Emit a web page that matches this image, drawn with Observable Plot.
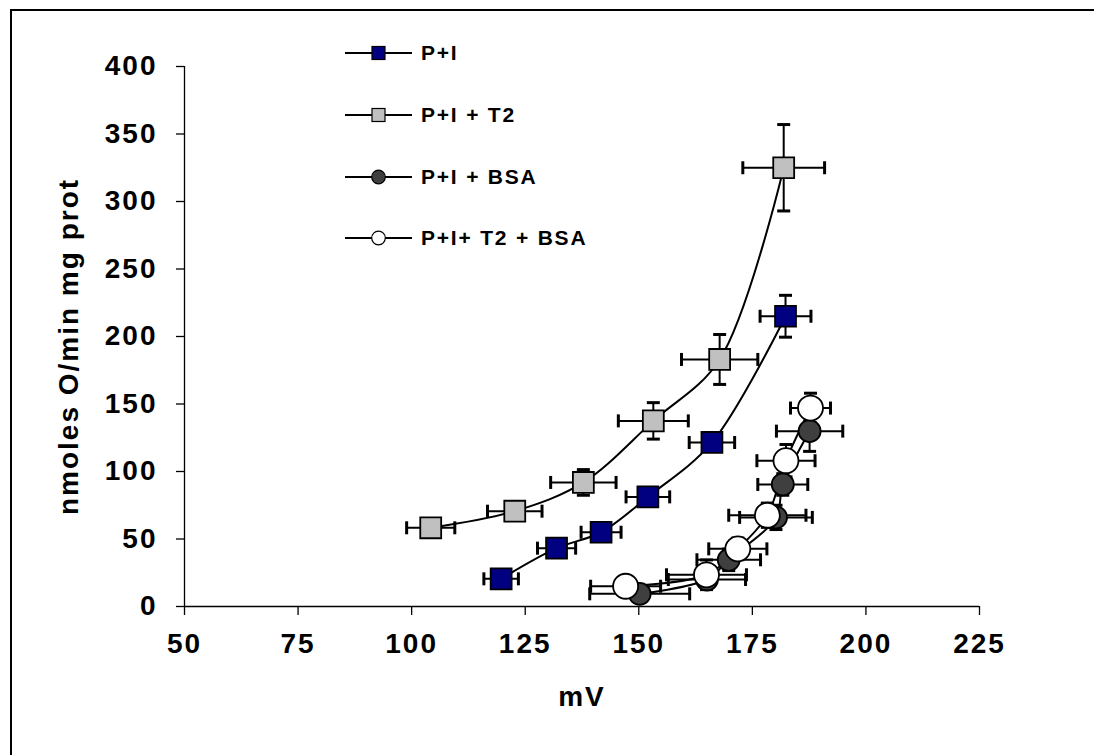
<!DOCTYPE html>
<html>
<head>
<meta charset="utf-8">
<script src="https://cdn.jsdelivr.net/npm/d3@7"></script>
<script src="https://cdn.jsdelivr.net/npm/@observablehq/plot@0.6"></script>
<style>
  html, body { margin: 0; padding: 0; background: #fff; }
  #wrap { position: relative; width: 1094px; height: 755px; overflow: hidden; font-family: "Liberation Sans", Arial, sans-serif; }
  #frame { position: absolute; left: 10px; top: 9px; right: -4px; bottom: -4px; border-top: 2px solid #000; border-left: 2px solid #000; pointer-events: none; }
  #chart { position: absolute; left: 0; top: 0; }
  #legend { position: absolute; left: 345px; top: 0; }
  .lrow { position: absolute; left: 0; height: 30px; display: flex; align-items: center; white-space: nowrap; }
  .lrow span { font-weight: bold; font-size: 21px; letter-spacing: 1.8px; line-height: 30px; margin-left: 9px; color: #000; }
</style>
</head>
<body>
<div id="wrap">
  <div id="chart"></div>
  <div id="frame"></div>
  <div id="legend"></div>
</div>
<script>
// ---- data ----
const seriesNames = ["P+I", "P+I + T2", "P+I + BSA", "P+I+ T2 + BSA"];
const seriesFill = ["#000080", "#c0c0c0", "#3f3f3f", "#ffffff"];
const seriesSymbol = ["square", "square", "circle", "circle"];

const x_PI = [119.7, 131.9, 141.7, 152.0, 166.1, 182.3];
const y_PI = [20.5, 43.2, 55.0, 81.2, 121.5, 215.0];
const ex_PI = [3.8, 4.2, 4.4, 4.8, 5.0, 5.6];
const ey_PI = [3, 3, 3, 4, 5, 15.5];

const x_PIT2 = [104.2, 122.7, 137.8, 153.2, 167.8, 181.9];
const y_PIT2 = [58.3, 70.6, 91.9, 137.5, 183.0, 325.0];
const ex_PIT2 = [5.3, 6.0, 7.2, 7.7, 8.4, 9.0];
const ey_PIT2 = [3, 4, 9.5, 13.5, 18.5, 32];

const x_PIBSA = [150.2, 165.0, 169.8, 180.2, 181.7, 187.6];
const y_PIBSA = [9.4, 20.0, 34.6, 66.0, 90.4, 129.9];
const ex_PIBSA = [11.0, 8.5, 7.0, 8.0, 5.5, 7.3];
const ey_PIBSA = [3, 6, 8, 9, 8, 15];

const x_PIT2BSA = [147.1, 164.9, 171.8, 178.3, 182.4, 187.8];
const y_PIT2BSA = [15.0, 23.5, 42.7, 67.6, 108.0, 147.0];
const ex_PIT2BSA = [7.7, 8.8, 6.4, 8.5, 6.4, 4.4];
const ey_PIT2BSA = [3, 11, 8, 9, 12, 11];

const xTicks = [50, 75, 100, 125, 150, 175, 200, 225];
const yTicks = [0, 50, 100, 150, 200, 250, 300, 350, 400];
const xLabel = "mV";
const yLabel = "nmoles O/min mg prot";

// ---- build table ----
const xs = [x_PI, x_PIT2, x_PIBSA, x_PIT2BSA];
const ys = [y_PI, y_PIT2, y_PIBSA, y_PIT2BSA];
const exs = [ex_PI, ex_PIT2, ex_PIBSA, ex_PIT2BSA];
const eys = [ey_PI, ey_PIT2, ey_PIBSA, ey_PIT2BSA];
const rows = [];
seriesNames.forEach((s, i) => {
  xs[i].forEach((x, j) => rows.push({series: s, si: i, x, y: ys[i][j], ex: exs[i][j], ey: eys[i][j]}));
});

const capV = {draw(ctx, size) { const h = Math.sqrt(size / Math.PI); ctx.moveTo(0, -h); ctx.lineTo(0, h); }};
const capH = {draw(ctx, size) { const h = Math.sqrt(size / Math.PI); ctx.moveTo(-h, 0); ctx.lineTo(h, 0); }};

const markerMarks = seriesNames.map((s, i) => Plot.dot(rows.filter(d => d.si === i), {
  x: "x", y: "y",
  symbol: seriesSymbol[i],
  r: seriesSymbol[i] === "square" ? 11.8 : (i === 2 ? 11 : 12.5),
  fill: seriesFill[i], stroke: "#000", strokeWidth: 1.8
}));

const chart = Plot.plot({
  width: 1094, height: 755,
  marginLeft: 184, marginRight: 115, marginTop: 66, marginBottom: 149,
  x: {domain: [xTicks[0], xTicks[xTicks.length - 1]]},
  y: {domain: [yTicks[0], yTicks[yTicks.length - 1]]},
  style: {fontFamily: "'Liberation Sans', Arial, sans-serif", color: "#000", background: "transparent", overflow: "visible"},
  marks: [
    Plot.axisX({ticks: xTicks, tickSize: 9, tickPadding: 18, fontSize: 28, fontWeight: "bold", label: null, strokeWidth: 1.3}),
    Plot.axisY({ticks: yTicks, tickSize: 8, tickPadding: 19, fontSize: 28, fontWeight: "bold", label: null, strokeWidth: 1.3}),
    Plot.ruleX([xTicks[0]], {stroke: "#000", strokeWidth: 1.3}),
    Plot.ruleY([yTicks[0]], {stroke: "#000", strokeWidth: 1.3}),
    Plot.text([xLabel], {frameAnchor: "bottom", dy: 99, fontSize: 28, fontWeight: "bold", fill: "#000"}),
    Plot.text([yLabel], {frameAnchor: "left", textAnchor: "middle", dx: -115, dy: 10, rotate: -90, fontSize: 28, fontWeight: "bold", fill: "#000"}),
    // error bars
    Plot.ruleY(rows, {y: "y", x1: d => d.x - d.ex, x2: d => d.x + d.ex, stroke: "#000", strokeWidth: 2}),
    Plot.ruleX(rows, {x: "x", y1: d => d.y - d.ey, y2: d => d.y + d.ey, stroke: "#000", strokeWidth: 2}),
    Plot.dot(rows, {x: d => d.x - d.ex, y: "y", symbol: capV, r: 6.5, stroke: "#000", strokeWidth: 3, fill: "none"}),
    Plot.dot(rows, {x: d => d.x + d.ex, y: "y", symbol: capV, r: 6.5, stroke: "#000", strokeWidth: 3, fill: "none"}),
    Plot.dot(rows, {x: "x", y: d => d.y - d.ey, symbol: capH, r: 6.5, stroke: "#000", strokeWidth: 3, fill: "none"}),
    Plot.dot(rows, {x: "x", y: d => d.y + d.ey, symbol: capH, r: 6.5, stroke: "#000", strokeWidth: 3, fill: "none"}),
    // lines
    Plot.line(rows, {x: "x", y: "y", z: "series", curve: "catmull-rom", stroke: "#000", strokeWidth: 2}),
    ...markerMarks
  ]
});
chart.querySelectorAll("text").forEach(t => t.style.letterSpacing = "2px");
document.getElementById("chart").appendChild(chart);

// ---- legend ----
const legendY = [53, 115, 177, 238];
const legend = document.getElementById("legend");
seriesNames.forEach((s, i) => {
  const row = document.createElement("div");
  row.className = "lrow";
  row.style.top = (legendY[i] - 15) + "px";
  const sym = seriesSymbol[i] === "square"
    ? `<rect x="27" y="8.5" width="13" height="13" fill="${seriesFill[i]}" stroke="#000" stroke-width="1.2"/>`
    : `<circle cx="33.5" cy="15" r="6.8" fill="${seriesFill[i]}" stroke="#000" stroke-width="1.2"/>`;
  row.innerHTML = `<svg width="67" height="30"><line x1="0" x2="67" y1="15" y2="15" stroke="#000" stroke-width="2"/>${sym}</svg><span>${s}</span>`;
  legend.appendChild(row);
});
</script>
</body>
</html>
